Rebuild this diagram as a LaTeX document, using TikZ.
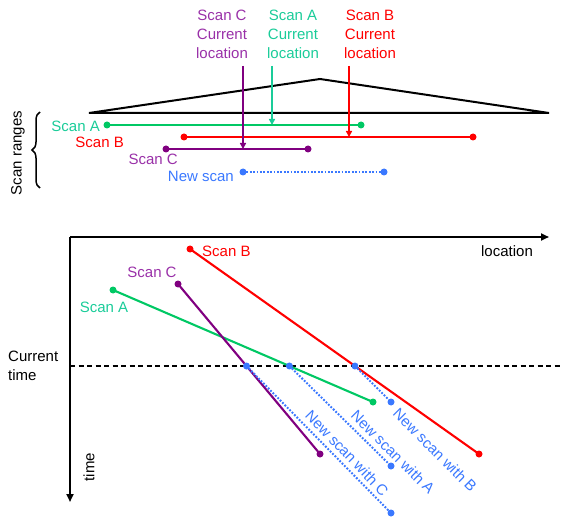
\documentclass[tikz,border=0pt]{standalone}
\usepackage{fontspec}
\setmainfont{Liberation Sans}
\usetikzlibrary{arrows.meta,decorations.pathreplacing,calc}
\definecolor{cgreen}{HTML}{00C864}
\definecolor{cteal}{HTML}{1ACC99}
\definecolor{cpurple}{HTML}{800080}
\definecolor{cpurpletxt}{HTML}{9930A8}
\definecolor{cred}{HTML}{FF0000}
\definecolor{cblue}{HTML}{3A78FF}
\tikzset{
  lbl/.style={font=\fontsize{15}{19}\selectfont, inner sep=0pt},
  rangeline/.style={line width=2.1pt},
  newline/.style={line width=2pt, color=cblue, dash pattern=on 1.8pt off 1.6pt},
  dotmark/.style={circle, fill, inner sep=0pt, minimum size=7pt},
  locarrow/.style={line width=1.8pt, -{Triangle[length=6pt,width=6pt]}},
  axisline/.style={line width=2pt, -{Triangle[length=8pt,width=7pt]}},
}
\begin{document}
\begin{tikzpicture}[x=1pt,y=-1pt]
\useasboundingbox (0,0) rectangle (561,518);
% ---------- top part ----------
\draw[line width=2pt, line join=miter] (89,113) -- (320,79) -- (549,113) -- cycle;

\node[lbl, align=center, text=cpurpletxt] (labC) at (222,34) {Scan C\\Current\\location};
\node[lbl, align=center, text=cteal] (labA) at (293,34) {Scan A\\Current\\location};
\node[lbl, align=center, text=cred] (labB) at (370,34) {Scan B\\Current\\location};

% ranges
\node[dotmark, cgreen] (ra1) at (107,125) {};
\node[dotmark, cgreen] (ra2) at (361,125) {};
\node[dotmark, cred] (rb1) at (184,137) {};
\node[dotmark, cred] (rb2) at (473,137) {};
\node[dotmark, cpurple] (rc1) at (166,149) {};
\node[dotmark, cpurple] (rc2) at (308,149) {};
\node[dotmark, cblue] (rn1) at (243,172) {};
\node[dotmark, cblue] (rn2) at (384,172) {};
\draw[rangeline, cgreen] (ra1.center) -- (ra2.center);
\draw[rangeline, cred] (rb1.center) -- (rb2.center);
\draw[rangeline, cpurple] (rc1.center) -- (rc2.center);
\draw[newline] (rn1.center) -- (rn2.center);

\node[lbl, anchor=east, text=cteal] (tA) at (100,126) {Scan A};
\node[lbl, anchor=east, text=cred] (tB) at (124,142) {Scan B};
\node[lbl, anchor=east, text=cpurpletxt] (tC) at (178,159) {Scan C};
\node[lbl, anchor=east, text=cblue] (tN) at (234,176) {New scan};

% current location arrows
\coordinate (sC) at (243,66);
\coordinate (eC) at (243,149);
\coordinate (sA) at (272,66);
\coordinate (eA) at (272,125);
\coordinate (sB) at (349,66);
\coordinate (eB) at (349,137);
\draw[locarrow, cpurple] (sC) -- (eC);
\draw[locarrow, cteal] (sA) -- (eA);
\draw[locarrow, cred] (sB) -- (eB);

% brace
\coordinate (br1) at (40,188);
\coordinate (br2) at (40,112);
\draw[line width=1.5pt, decorate, decoration={brace, amplitude=8pt}] (br1) -- (br2);
\node[lbl, rotate=90] (sr) at (18,153) {Scan ranges};

% ---------- bottom part ----------
\coordinate (O) at (70,237);
\coordinate (X) at (549,237);
\coordinate (Y) at (70,502);
\draw[axisline] (O) -- (X);
\draw[axisline] (O) -- (Y);
\node[lbl] (loc) at (507,251) {location};
\node[lbl, rotate=90] (tim) at (89,467) {time};
\node[lbl, align=left, anchor=west] (ct) at (8,366) {Current\\time};

\coordinate (d1) at (70,366);
\coordinate (d2) at (561,366);
\draw[line width=1.4pt, dash pattern=on 5pt off 3.5pt] (d1) -- (d2);

\coordinate (a1) at (113,290);
\coordinate (a2) at (373,402);
\coordinate (c1) at (178,284);
\coordinate (c2) at (320,454);
\coordinate (b1) at (190,249);
\coordinate (b2) at (479,454);

\draw[rangeline, cgreen] (a1) -- (a2);
\draw[rangeline, cpurple] (c1) -- (c2);
\draw[rangeline, cred] (b1) -- (b2);

\node[dotmark, cgreen] (na1) at (a1) {};
\node[dotmark, cgreen] (na2) at (a2) {};
\node[dotmark, cpurple] (nc1) at (c1) {};
\node[dotmark, cpurple] (nc2) at (c2) {};
\node[dotmark, cred] (nb1) at (b1) {};
\node[dotmark, cred] (nb2) at (b2) {};

\node[dotmark, cblue] (iC) at (intersection of c1--c2 and d1--d2) {};
\node[dotmark, cblue] (iA) at (intersection of a1--a2 and d1--d2) {};
\node[dotmark, cblue] (iB) at (intersection of b1--b2 and d1--d2) {};
\node[dotmark, cblue] (eCn) at (391,513) {};
\node[dotmark, cblue] (eAn) at (391,466) {};
\node[dotmark, cblue] (eBn) at (391,402) {};
\draw[newline] (iC.center) -- (eCn.center);
\draw[newline] (iA.center) -- (eAn.center);
\draw[newline] (iB.center) -- (eBn.center);

\node[lbl, text=cteal] (bA) at (104,307) {Scan A};
\node[lbl, text=cpurpletxt] (bC) at (152,272) {Scan C};
\node[lbl, anchor=west, text=cred] (bB) at (202,251) {Scan B};

\node[lbl, rotate=-46, text=cblue] (nwC) at (347,453) {New scan with C};
\node[lbl, rotate=-45, text=cblue] (nwA) at (393,452) {New scan with A};
\node[lbl, rotate=-45, text=cblue] (nwB) at (435,450) {New scan with B};
\end{tikzpicture}
\end{document}
